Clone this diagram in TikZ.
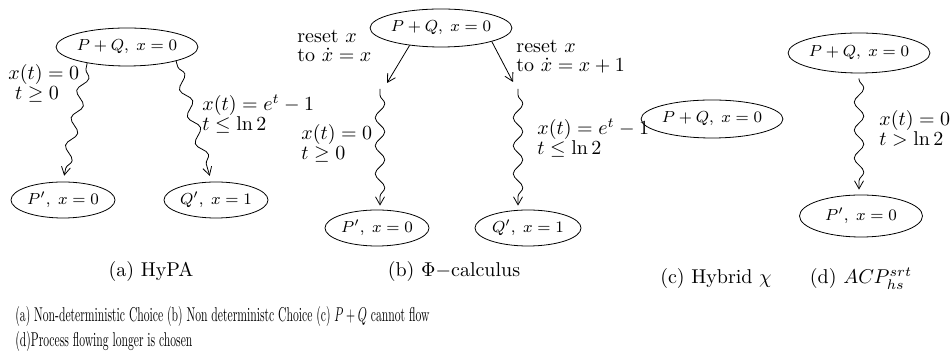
\documentclass[tikz,border=0pt]{standalone}
\usepackage{graphicx}
\usetikzlibrary{decorations.pathmorphing,arrows.meta,shapes.geometric}
\begin{document}
\begin{tikzpicture}[x=0.5pt,y=-0.5pt,
  st/.style={draw, ellipse, inner sep=0pt, font=\footnotesize},
  lbl/.style={anchor=west, align=left, inner sep=0pt},
  captxt/.style={anchor=base, inner sep=0pt},
  vtip/.style={-{Straight Barb[length=4pt,width=4.5pt]}},
  squig/.style={vtip, decorate, decoration={snake, amplitude=2.4pt, segment length=14pt, pre length=3pt, post length=3pt}},
]
\useasboundingbox (0,0) rectangle (951,356);
% (a) HyPA
\node[st, minimum width=65pt, minimum height=19pt] (atop) at (127,47) {$P+Q,\; x=0$};
\node[st, minimum width=52pt, minimum height=18pt] (ap) at (63,200) {$P',\; x=0$};
\node[st, minimum width=52pt, minimum height=18pt] (aq) at (216,200) {$Q',\; x=1$};
\draw[squig, shorten >=3pt] (atop.202) -- (ap.north);
\draw[squig, shorten >=3pt] (atop.-16) -- (aq.104);
\node[lbl] (al1) at (8,83) {$x(t)=0$\\[-2pt]\ $t\geq 0$};
\node[lbl] (al2) at (202,114) {$x(t)=e^t-1$\\[-2pt]$t\leq \ln 2$};
\node[captxt] (capa) at (151,277) {(a) HyPA};
% (b) Phi-calculus
\node[st, minimum width=63pt, minimum height=19pt] (btop) at (441,28) {$P+Q,\; x=0$};
\node[st, minimum width=52pt, minimum height=18pt] (bp) at (377,228) {$P',\; x=0$};
\node[st, minimum width=53pt, minimum height=18pt] (bq) at (528,228) {$Q',\; x=1$};
\coordinate (bl) at (387,83);
\coordinate (br) at (513,82);
\coordinate (bls) at (380,89);
\coordinate (brs) at (518,89);
\draw[vtip] (btop.209) -- (bl);
\draw[vtip] (btop.-15) -- (br);
\draw[squig, shorten >=2pt] (bls) -- (bls |- bp.north);
\draw[squig, shorten >=2pt] (brs) -- (brs |- bq.north);
\node[lbl] (bl1) at (297,46) {reset $x$\\[-2.5pt]to $\dot{x}=x$};
\node[lbl] (bl2) at (516,57) {reset $x$\\[-2.5pt]to $\dot{x}=x+1$};
\node[lbl] (bl3) at (301,143) {$x(t)=0$\\[-2pt]$t\geq 0$};
\node[lbl] (bl4) at (537,138) {$x(t)=e^t-1$\\[-2pt]$t\leq \ln 2$};
\node[captxt] (capb) at (454,277) {(b) $\Phi-$calculus};
% (c) Hybrid chi
\node[st, minimum width=61pt, minimum height=19pt] (c) at (712,119) {$P+Q,\; x=0$};
\node[captxt] (capc) at (716,284) {(c) Hybrid $\chi$};
% (d) ACP
\node[st, minimum width=62pt, minimum height=20pt] (dtop) at (859,53) {$P+Q,\; x=0$};
\node[st, minimum width=61.5pt, minimum height=21pt] (dp) at (861,216) {$P',\; x=0$};
\draw[squig, shorten <=2.5pt, shorten >=2.5pt] (dtop.south) -- (dtop.south |- dp.north);
\node[lbl] (dl1) at (879,128) {$x(t)=0$\\[-2pt]$t> \ln 2$};
\node[captxt] (capd) at (861,284) {(d) $ACP^{srt}_{hs}$};
% bottom caption
\node[anchor=base west, inner sep=0pt] (cap1) at (15,322) {\resizebox{207pt}{\height}{(a) Non-deterministic Choice (b) Non deterministc Choice (c) $P+Q$ cannot flow}};
\node[anchor=base west, inner sep=0pt] (cap2) at (15,347) {\resizebox{88.5pt}{\height}{(d)Process flowing longer is chosen}};
\end{tikzpicture}
\end{document}
